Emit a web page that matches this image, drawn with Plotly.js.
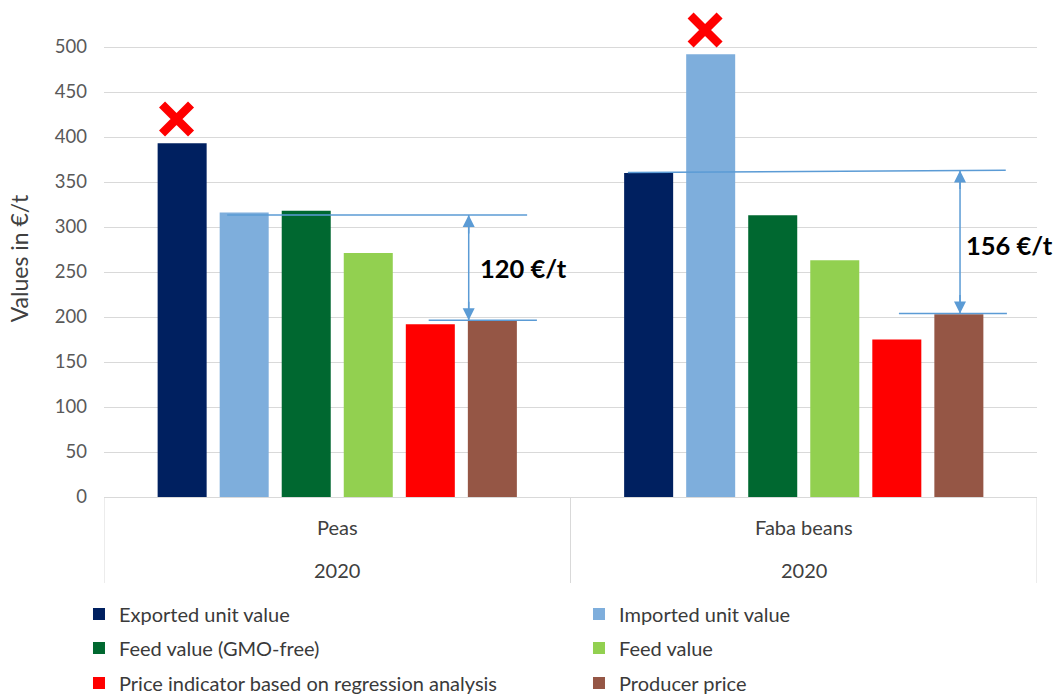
<!DOCTYPE html>
<html><head><meta charset="utf-8">
<script src="https://cdn.plot.ly/plotly-3.0.1.min.js"></script>
<style>html,body{margin:0;padding:0;background:#fff}#chart{width:1057px;height:695px}</style>
</head><body><div id="chart"></div>
<script>
// ---- data ----
const categories = ['Peas', 'Faba beans'];
const years = ['2020', '2020'];
const seriesNames = ['Exported unit value', 'Imported unit value', 'Feed value (GMO-free)',
  'Feed value', 'Price indicator based on regression analysis', 'Producer price'];
const exportedUnitValue = [393, 360];
const importedUnitValue = [316, 492];
const feedValueGmoFree = [318, 313];
const feedValue = [271, 263];
const priceIndicator = [192, 175];
const producerPrice = [196, 203];
const crossedSeries = [0, 1];          // series marked with a red cross, per category
const gapLabels = ['120 €/t', '156 €/t'];
const yTicks = [0, 50, 100, 150, 200, 250, 300, 350, 400, 450, 500];

// ---- styles ----
const seriesValues = [exportedUnitValue, importedUnitValue, feedValueGmoFree, feedValue, priceIndicator, producerPrice];
const colors = ['#002060', '#7EAEDC', '#006830', '#92D050', '#FF0000', '#955645'];
const legendIds = ['legend', 'legend', 'legend2', 'legend2', 'legend3', 'legend3'];
const FONT = 'Lato, "Open Sans", sans-serif';
const BARGAP = 0.202;
const YMAX = 530;            // headroom above 500 for the red cross
const PLOT_H = 477;          // plot height in px (0.9 px per unit)
const xIdx = categories.map((_, i) => i);
const py = (dy) => -dy / PLOT_H;   // paper y for a pixel distance below the axis

const traces = seriesValues.map((vals, s) => ({
  type: 'bar', name: seriesNames[s], x: xIdx, y: vals,
  marker: { color: colors[s], line: { width: 0 } },
  legend: legendIds[s], hoverinfo: 'name+y'
}));

// red crosses above the marked bars
const slot = (1 - BARGAP) / seriesValues.length;
traces.push({
  type: 'scatter', mode: 'markers', showlegend: false, cliponaxis: false, hoverinfo: 'skip',
  x: crossedSeries.map((s, c) => c + (s - (seriesValues.length - 1) / 2) * slot - 0.012),
  y: crossedSeries.map((s, c) => seriesValues[s][c] + 27),
  marker: { symbol: 'x-thin', size: 29, color: '#FF0000', line: { color: '#FF0000', width: 8.5 } }
});

const gridC = '#D9D9D9';
const blue = '#5B9BD5';
const shapes = [];
// category box separators
for (let k = 0; k <= categories.length; k++) {
  shapes.push({ type: 'line', xref: 'x', yref: 'paper', x0: k - 0.5, x1: k - 0.5, y0: 0, y1: py(86),
    line: { color: gridC, width: 1 } });
}
// bracket lines (Peas, then Faba beans)
const bracket = [
  { top: [-0.236, 0.407, 313.3, 313.3], bot: [0.196, 0.428, 196.3], ax: 0.2818, lx: 0.302, ly: 254 },
  { top: [0.623, 1.433, 360.5, 363], bot: [1.204, 1.4355, 204], ax: 1.335, lx: 1.3445, ly: 280 }
];
const annotations = [];
bracket.forEach((b, i) => {
  shapes.push({ type: 'line', xref: 'x', yref: 'y', x0: b.top[0], x1: b.top[1], y0: b.top[2], y1: b.top[3], line: { color: blue, width: 1.5 } });
  shapes.push({ type: 'line', xref: 'x', yref: 'y', x0: b.bot[0], x1: b.bot[1], y0: b.bot[2], y1: b.bot[2], line: { color: blue, width: 1.5 } });
  const yTop = b.top[2] + (b.top[3] - b.top[2]) * (b.ax - b.top[0]) / (b.top[1] - b.top[0]);
  shapes.push({ type: 'line', xref: 'x', yref: 'y', x0: b.ax, x1: b.ax, y0: yTop, y1: b.bot[2], line: { color: blue, width: 1.5 } });
  annotations.push({ xref: 'x', yref: 'y', x: b.ax, y: yTop, ax: 0, ay: 20, text: '', showarrow: true,
    arrowhead: 2, arrowsize: 1.6, arrowwidth: 1.5, arrowcolor: blue, standoff: 0 });
  annotations.push({ xref: 'x', yref: 'y', x: b.ax, y: b.bot[2], ax: 0, ay: -20, text: '', showarrow: true,
    arrowhead: 2, arrowsize: 1.6, arrowwidth: 1.5, arrowcolor: blue, standoff: 0 });
  annotations.push({ xref: 'x', yref: 'y', x: b.lx, y: b.ly, xanchor: 'left', yanchor: 'middle', showarrow: false,
    text: '<b>' + gapLabels[i] + '</b>', font: { family: FONT, size: 25.5, color: '#000000' } });
});
// two-level category labels
categories.forEach((c, i) => {
  annotations.push({ xref: 'x', yref: 'paper', x: i, y: py(30), yanchor: 'middle', showarrow: false,
    text: c, font: { family: FONT, size: 20, color: '#404040' } });
  annotations.push({ xref: 'x', yref: 'paper', x: i, y: py(73), yanchor: 'middle', showarrow: false,
    text: years[i], font: { family: FONT, size: 20, color: '#404040' } });
});

const legendBase = {
  orientation: 'h', xanchor: 'left', x: -0.0268, yanchor: 'middle',
  entrywidth: 455, entrywidthmode: 'pixels', bgcolor: 'rgba(0,0,0,0)', borderwidth: 0,
  font: { family: FONT, size: 20, color: '#3A3A3A' }, itemclick: false, itemdoubleclick: false
};

const layout = {
  width: 1057, height: 695,
  margin: { l: 104, r: 20, t: 695 - 198 - PLOT_H, b: 198, autoexpand: false },
  paper_bgcolor: '#FFFFFF', plot_bgcolor: '#FFFFFF',
  font: { family: FONT, color: '#404040' },
  barmode: 'group', bargap: BARGAP, bargroupgap: 0.21,
  xaxis: { type: 'linear', range: [-0.5, 1.5], showgrid: false, zeroline: false, showticklabels: false,
    ticks: '', showline: true, linecolor: gridC, linewidth: 1, fixedrange: true },
  yaxis: { range: [0, YMAX], tickvals: yTicks, showgrid: true, gridcolor: gridC, gridwidth: 1,
    zeroline: false, showline: false, ticks: '', ticklabelstandoff: 16,
    tickfont: { family: FONT, size: 18.5, color: '#595959' },
    title: { text: 'Values in €/t', font: { family: FONT, size: 23, color: '#404040' }, standoff: 19 },
    fixedrange: true },
  legend: Object.assign({}, legendBase, { y: py(117) }),
  legend2: Object.assign({}, legendBase, { y: py(151) }),
  legend3: Object.assign({}, legendBase, { y: py(186) }),
  shapes: shapes, annotations: annotations, showlegend: true
};

Plotly.newPlot('chart', traces, layout, { displayModeBar: false });
</script></body></html>
